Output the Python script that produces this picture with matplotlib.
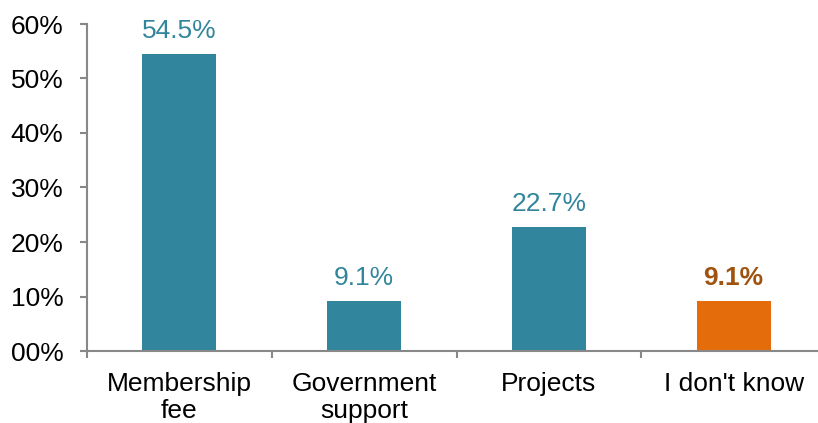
import numpy as np
import matplotlib
matplotlib.use('Agg')
import matplotlib.pyplot as plt

# data
categories = ['Membership\nfee', 'Government\nsupport', 'Projects', "I don't know"]
values = [0.545, 0.091, 0.227, 0.091]
value_labels = ['54.5%', '9.1%', '22.7%', '9.1%']
ytick_vals = [0, 0.1, 0.2, 0.3, 0.4, 0.5, 0.6]
ytick_labels = ['00%', '10%', '20%', '30%', '40%', '50%', '60%']

teal = '#31859C'
orange = '#E46C0A'
bar_colors = [teal, teal, teal, orange]
label_colors = [teal, teal, teal, '#A0520F']
label_weights = ['normal', 'normal', 'normal', 'bold']

plt.rcParams['font.family'] = ['Liberation Sans', 'DejaVu Sans']

fig = plt.figure(figsize=(8.18, 4.23), dpi=100)
ax = fig.add_axes([87/818, 72/423, 739/818, 327/423])

x = np.arange(len(categories))
ax.bar(x, values, width=0.4, color=bar_colors)

for xi, v, lab, c, w in zip(x, values, value_labels, label_colors, label_weights):
    ax.annotate(lab, (xi, v), xytext=(0, 8), textcoords='offset points',
                ha='center', va='bottom', fontsize=19, color=c, fontweight=w)

ax.set_xlim(-0.5, 3.5)
ax.set_ylim(0, 0.6)
ax.set_yticks(ytick_vals)
ax.set_yticklabels(ytick_labels, fontsize=19)
ax.set_xticks(x)
ax.set_xticklabels(categories, fontsize=19, linespacing=1.15)
ax.set_xticks(np.arange(-0.5, 4, 1), minor=True)
ax.tick_params(axis='x', which='major', length=0, pad=15)
ax.tick_params(axis='x', which='minor', length=5, width=1.5, color='#888888', direction='out')
ax.tick_params(axis='y', length=5, width=1.5, color='#888888', direction='out', pad=12)

for s in ['top', 'right']:
    ax.spines[s].set_visible(False)
for s in ['left', 'bottom']:
    ax.spines[s].set_color('#888888')
    ax.spines[s].set_linewidth(1.5)

fig.savefig('out.png', dpi=100)
